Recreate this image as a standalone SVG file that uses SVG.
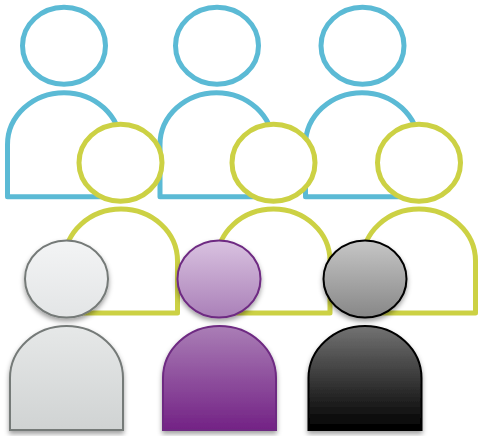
<svg xmlns="http://www.w3.org/2000/svg" xmlns:xlink="http://www.w3.org/1999/xlink" width="479" height="436" viewBox="0 0 479 436">
<style>
.b{fill:#fff;stroke:#5bbad5;stroke-width:5;stroke-linejoin:round}
.y{fill:#fff;stroke:#ccd144;stroke-width:5;stroke-linejoin:round}
.g,.p,.k{stroke-width:2;filter:url(#sh)}
.g{stroke:#757a78}
.p{stroke:#6e2a82}
.k{stroke:#000}
</style>
<defs>
<filter id="sh" x="-20%" y="-20%" width="140%" height="140%"><feDropShadow dx="0" dy="3" stdDeviation="2.5" flood-color="#000" flood-opacity="0.38"/></filter>
<linearGradient id="gh" x1="0" y1="0" x2="0" y2="1"><stop offset="0" stop-color="#f3f4f5"/><stop offset="1" stop-color="#e3e5e6"/></linearGradient>
<linearGradient id="gb" x1="0" y1="0" x2="0" y2="1"><stop offset="0" stop-color="#e6e8e8"/><stop offset="1" stop-color="#d0d3d3"/></linearGradient>
<linearGradient id="ph" x1="0" y1="0" x2="0" y2="1"><stop offset="0" stop-color="#d9c2e0"/><stop offset="1" stop-color="#aa80b8"/></linearGradient>
<linearGradient id="pb" x1="0" y1="0" x2="0" y2="1"><stop offset="0" stop-color="#aa7eb6"/><stop offset="1" stop-color="#732285"/></linearGradient>
<linearGradient id="kh" x1="0" y1="0" x2="0" y2="1"><stop offset="0" stop-color="#c6c6c6"/><stop offset="1" stop-color="#878787"/></linearGradient>
<linearGradient id="kb" x1="0" y1="0" x2="0" y2="1"><stop offset="0" stop-color="#737373"/><stop offset="1" stop-color="#000"/></linearGradient>
<path id="body" d="M-56.5 52V0A56.5 52 0 0 1 56.5 0V52Z"/>
<ellipse id="head" cx="0" cy="0" rx="41.5" ry="38.5"/>
</defs>
<g id="blue-1" class="b"><use href="#head" x="64" y="45.7"/><use href="#body" x="64" y="144.7"/></g>
<g id="blue-2" class="b"><use href="#head" x="217" y="45.7"/><use href="#body" x="216.5" y="144.7"/></g>
<g id="blue-3" class="b"><use href="#head" x="362.5" y="45.7"/><use href="#body" x="362" y="144.7"/></g>
<g id="yellow-1" class="y"><use href="#body" x="121" y="261"/><use href="#head" x="120.5" y="162.7"/></g>
<g id="yellow-2" class="y"><use href="#body" x="273.5" y="261"/><use href="#head" x="273.5" y="162.7"/></g>
<g id="yellow-3" class="y"><use href="#body" x="419" y="261"/><use href="#head" x="419" y="162.7"/></g>
<g id="grey-person" class="g"><use href="#body" x="66.5" y="378" fill="url(#gb)"/><use href="#head" x="66.5" y="279" fill="url(#gh)"/></g>
<g id="purple-person" class="p"><use href="#body" x="219.5" y="378" fill="url(#pb)"/><use href="#head" x="219" y="279" fill="url(#ph)"/></g>
<g id="black-person" class="k"><use href="#body" x="365" y="378" fill="url(#kb)"/><use href="#head" x="365" y="279" fill="url(#kh)"/></g>
</svg>
